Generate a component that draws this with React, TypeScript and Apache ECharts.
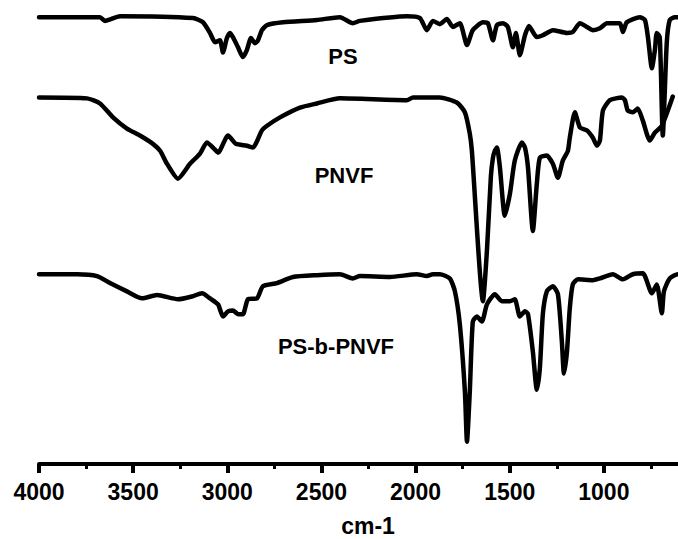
import React, { useEffect, useRef } from "react";
import * as echarts from "echarts";

// FTIR spectra: [wavenumber (cm-1), stacked transmittance (a.u.)]
const psSpectrum: [number, number][] = [
  [4000, 96.3], [3676, 96.3], [3650, 95.5], [3570, 96.5], [3182, 96.1], [3129, 95.2],
  [3092, 92.9], [3065, 90.9], [3039, 91.3], [3023, 88.7], [3002, 91.8], [2986, 92.9],
  [2970, 92.0], [2943, 89.8], [2917, 87.7], [2896, 89.2], [2874, 91.8], [2853, 90.7],
  [2837, 91.3], [2816, 93.5], [2789, 94.6], [2704, 95.2], [2524, 95.7], [2402, 96.3],
  [2333, 95.0], [2296, 95.5], [2046, 96.5], [1977, 96.1], [1940, 93.5], [1908, 95.5],
  [1871, 94.8], [1834, 95.9], [1802, 94.2], [1765, 95.0], [1727, 90.3], [1696, 93.5],
  [1642, 95.2], [1616, 95.0], [1589, 91.3], [1568, 94.6], [1536, 95.0], [1510, 94.2],
  [1483, 89.8], [1467, 92.9], [1446, 88.1], [1419, 92.4], [1398, 94.4], [1356, 92.0],
  [1324, 92.4], [1271, 93.5], [1196, 92.9], [1165, 93.1], [1127, 95.0], [1090, 94.2],
  [1058, 93.5], [1021, 93.9], [984, 95.0], [915, 95.0], [899, 93.1], [878, 95.2],
  [809, 96.3], [782, 95.7], [766, 92.0], [745, 85.3], [729, 89.2], [719, 92.9],
  [703, 92.0], [687, 70.8], [666, 90.7], [650, 95.7], [623, 96.3], [600, 96.3],
];

const pnvfSpectrum: [number, number][] = [
  [4000, 79.0], [3745, 78.8], [3676, 77.7], [3607, 74.7], [3533, 72.3], [3464, 70.8],
  [3395, 69.0], [3357, 67.5], [3320, 64.7], [3262, 61.5], [3198, 64.7], [3145, 66.9],
  [3108, 69.3], [3076, 68.2], [3049, 67.1], [2996, 70.8], [2954, 69.0], [2896, 68.6],
  [2864, 68.2], [2816, 71.9], [2789, 72.9], [2720, 74.7], [2614, 76.8], [2524, 77.7],
  [2402, 78.8], [2046, 78.4], [2014, 79.0], [1871, 79.0], [1781, 77.9], [1738, 75.8],
  [1712, 71.2], [1701, 67.5], [1642, 35.1], [1621, 46.0], [1600, 62.0], [1589, 66.0],
  [1579, 67.5], [1568, 68.2], [1552, 63.9], [1526, 53.5], [1499, 58.2], [1473, 65.4],
  [1435, 69.3], [1419, 68.2], [1403, 63.9], [1377, 50.2], [1356, 60.4], [1340, 66.0],
  [1303, 66.5], [1271, 64.7], [1244, 61.7], [1218, 65.4], [1191, 67.5], [1181, 70.3],
  [1154, 75.8], [1127, 72.5], [1090, 71.9], [1074, 71.2], [1058, 70.3], [1037, 68.6],
  [1021, 69.7], [1005, 76.2], [968, 78.4], [904, 79.0], [888, 78.4], [873, 76.2],
  [846, 75.8], [820, 76.6], [793, 74.0], [756, 69.7], [729, 71.4], [692, 72.9],
  [634, 79.2],
];

const blockSpectrum: [number, number][] = [
  [4000, 40.9], [3798, 40.9], [3692, 40.5], [3623, 39.0], [3533, 37.2], [3453, 35.7],
  [3373, 36.4], [3262, 35.5], [3188, 36.1], [3134, 36.8], [3092, 35.7], [3049, 34.4],
  [3023, 31.8], [2996, 32.9], [2970, 33.1], [2943, 32.3], [2917, 32.3], [2890, 35.5],
  [2842, 35.7], [2811, 38.3], [2736, 39.0], [2651, 40.3], [2524, 40.7], [2402, 40.9],
  [2333, 40.0], [2296, 40.5], [2136, 40.3], [1993, 40.9], [1940, 40.5], [1908, 40.9],
  [1871, 40.9], [1818, 40.0], [1791, 37.2], [1765, 30.1], [1738, 15.6], [1727, 4.8],
  [1712, 15.6], [1696, 30.7], [1674, 31.8], [1648, 30.7], [1621, 34.4], [1579, 36.6],
  [1542, 35.1], [1499, 35.1], [1473, 35.5], [1446, 31.8], [1419, 32.9], [1403, 32.3],
  [1377, 24.2], [1356, 16.0], [1340, 20.6], [1324, 32.3], [1303, 37.2], [1271, 38.3],
  [1244, 36.6], [1223, 26.4], [1212, 19.5], [1196, 24.2], [1181, 33.5], [1165, 38.7],
  [1138, 39.8], [1058, 39.6], [1021, 40.0], [952, 40.9], [899, 39.8], [846, 40.9],
  [793, 41.1], [745, 36.8], [719, 38.7], [692, 32.5], [681, 37.2], [650, 40.0],
  [607, 40.9], [600, 40.9],
];

const seriesNames = ["PS", "PNVF", "PS-b-PNVF"];
const axisTitle = "cm-1";

const FONT = "'Liberation Sans', Arial, sans-serif";

export default function App() {
  const ref = useRef<HTMLDivElement>(null);

  useEffect(() => {
    if (!ref.current) return;
    const chart = echarts.init(ref.current, undefined, { renderer: "svg" });

    const lineStyle = { color: "#000", width: 4.5, join: "round", cap: "round" } as any;
    const mkSeries = (name: string, data: [number, number][]) => ({
      name,
      type: "line",
      data,
      symbol: "none",
      showSymbol: false,
      smooth: 0.2,
      lineStyle,
      silent: true,
    });

    const label = (text: string, x: number, y: number) => ({
      type: "text",
      x,
      y,
      style: {
        text,
        fill: "#000",
        font: `bold 22px ${FONT}`,
        textAlign: "center",
        textVerticalAlign: "middle",
      },
    });

    chart.setOption({
      animation: false,
      backgroundColor: "#fff",
      grid: {
        left: 39,
        right: -20,
        top: 0,
        bottom: 75,
        containLabel: false,
        outerBoundsMode: "none",
      },
      xAxis: {
        type: "value",
        inverse: true,
        min: 500,
        max: 4000,
        interval: 500,
        axisLine: { show: true, lineStyle: { color: "#000", width: 4 } },
        axisTick: { show: true, length: 9, lineStyle: { color: "#000", width: 4 } },
        minorTick: { show: true, splitNumber: 2, length: 5, lineStyle: { color: "#000", width: 3 } },
        splitLine: { show: false },
        minorSplitLine: { show: false },
        axisLabel: {
          margin: 16,
          color: "#000",
          fontSize: 23,
          fontWeight: "bold",
          fontFamily: FONT,
          showMinLabel: false,
          formatter: (v: number) => (v < 1000 ? "" : String(v)),
        },
      },
      yAxis: { type: "value", min: 0, max: 100, show: false },
      series: [
        mkSeries(seriesNames[0], psSpectrum),
        mkSeries(seriesNames[1], pnvfSpectrum),
        mkSeries(seriesNames[2], blockSpectrum),
      ],
      graphic: [
        label(seriesNames[0], 343, 56),
        label(seriesNames[1], 344, 175),
        label(seriesNames[2], 336, 346),
        {
          type: "text",
          x: 368,
          y: 526,
          style: {
            text: axisTitle,
            fill: "#000",
            font: `bold 23px ${FONT}`,
            textAlign: "center",
            textVerticalAlign: "middle",
          },
        },
      ],
    });

    return () => chart.dispose();
  }, []);

  return (
    <div
      ref={ref}
      style={{
        position: "absolute",
        left: 0,
        top: 0,
        width: 678,
        height: 539,
        overflow: "hidden",
        background: "#fff",
      }}
    />
  );
}
